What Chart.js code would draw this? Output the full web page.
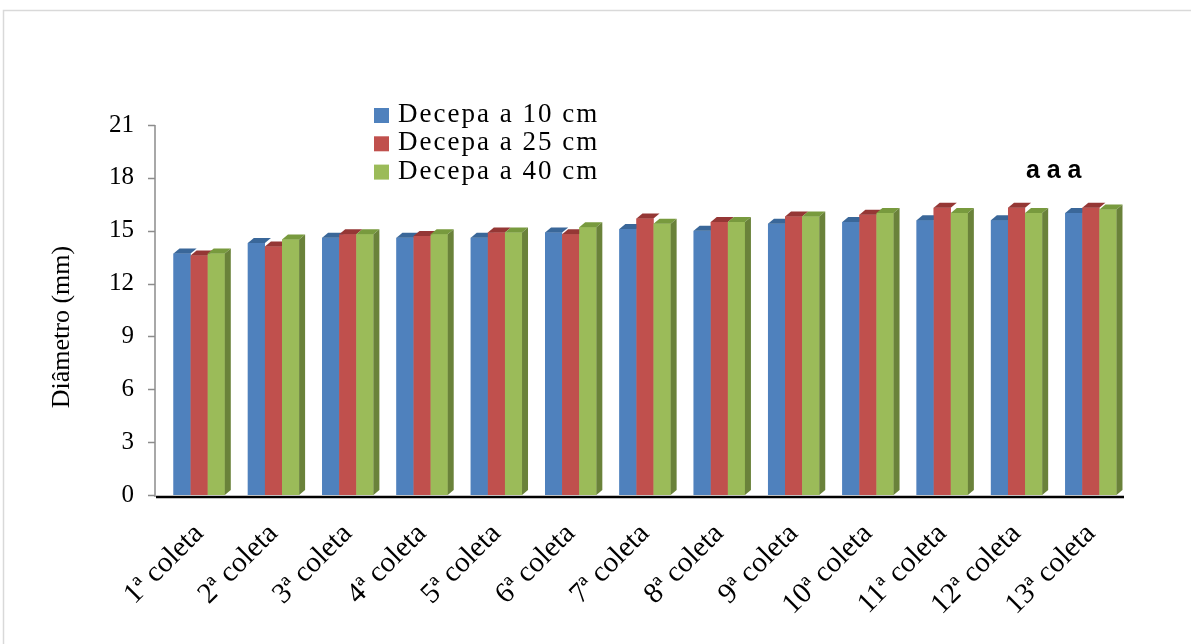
<!DOCTYPE html>
<html>
<head>
<meta charset="utf-8">
<script src="https://cdn.jsdelivr.net/npm/chart.js@4.4.1/dist/chart.umd.min.js"></script>
<style>
  html, body { margin: 0; padding: 0; background: #ffffff; }
  #wrap { width: 1191px; height: 644px; position: relative; }
</style>
</head>
<body>
<div id="wrap"><canvas id="chart" width="1191" height="644"></canvas></div>
<script>
// Stem diameter (mm) per sampling, for three cutting heights
const categories = ['1ª coleta', '2ª coleta', '3ª coleta', '4ª coleta', '5ª coleta', '6ª coleta', '7ª coleta',
                    '8ª coleta', '9ª coleta', '10ª coleta', '11ª coleta', '12ª coleta', '13ª coleta'];
const seriesNames = ['Decepa a 10 cm', 'Decepa a 25 cm', 'Decepa a 40 cm'];
const decepa10 = [13.7, 14.3, 14.6, 14.6, 14.6, 14.9, 15.1, 15.0, 15.4, 15.5, 15.6, 15.6, 16.0];
const decepa25 = [13.6, 14.1, 14.8, 14.7, 14.9, 14.8, 15.7, 15.5, 15.8, 15.9, 16.3, 16.3, 16.3];
const decepa40 = [13.7, 14.5, 14.8, 14.8, 14.9, 15.2, 15.4, 15.5, 15.8, 16.0, 16.0, 16.0, 16.2];
const yTicks = [0, 3, 6, 9, 12, 15, 18, 21];
const yTitle = 'Diâmetro (mm)';
const significance = 'a a a';

const frontColors = ['#4F81BD', '#C0504D', '#9BBB59'];
const topColors   = ['#3A6799', '#953735', '#789A3E'];
const sideColors  = ['#335A87', '#7F2E2C', '#6A823A'];
const DEPTH_X = 6, DEPTH_Y = 5;
const SERIF = "'Liberation Serif', 'Times New Roman', serif";

// Columns are redrawn series by series, each with a top face (and a side face on the
// last series) so that later columns hide the depth of the earlier ones
const bars3d = {
  id: 'bars3d',
  afterDatasetsDraw(chart) {
    const ctx = chart.ctx;
    const n = chart.data.datasets.length;
    for (let i = 0; i < n; i++) {
      const meta = chart.getDatasetMeta(i);
      meta.data.forEach(bar => {
        bar.draw(ctx, chart.chartArea);
        const { x, y, width, base } = bar.getProps(['x', 'y', 'width', 'base'], true);
        const l = x - width / 2, r = x + width / 2;
        ctx.save();
        ctx.fillStyle = topColors[i];
        ctx.beginPath();
        ctx.moveTo(l, y);
        ctx.lineTo(l + DEPTH_X, y - DEPTH_Y);
        ctx.lineTo(r + DEPTH_X, y - DEPTH_Y);
        ctx.lineTo(r, y);
        ctx.closePath();
        ctx.fill();
        if (i === n - 1) {
          ctx.fillStyle = sideColors[i];
          ctx.beginPath();
          ctx.moveTo(r, y);
          ctx.lineTo(r + DEPTH_X, y - DEPTH_Y);
          ctx.lineTo(r + DEPTH_X, base - DEPTH_Y);
          ctx.lineTo(r, base);
          ctx.closePath();
          ctx.fill();
        }
        ctx.restore();
      });
    }
  }
};

// Frame, axis lines, y title, legend and significance letters
const decorations = {
  id: 'decorations',
  beforeDraw(chart) {
    const ctx = chart.ctx;
    ctx.save();
    ctx.strokeStyle = '#D9D9D9';
    ctx.lineWidth = 1.5;
    ctx.strokeRect(3.5, 10.5, 1300, 700);
    ctx.restore();
  },
  afterDraw(chart) {
    const ctx = chart.ctx;
    const ca = chart.chartArea;
    const ys = chart.scales.y, xs = chart.scales.x;
    const axisX = ca.left - 7;
    ctx.save();
    // value axis with outward ticks
    ctx.strokeStyle = '#8C8C8C';
    ctx.lineWidth = 1.5;
    ctx.beginPath();
    ctx.moveTo(axisX, ys.getPixelForValue(21));
    ctx.lineTo(axisX, ca.bottom + 2);
    ys.ticks.forEach(t => {
      const py = Math.round(ys.getPixelForValue(t.value)) + 0.5;
      ctx.moveTo(axisX - 7, py);
      ctx.lineTo(axisX, py);
    });
    ctx.stroke();
    // category axis line
    ctx.strokeStyle = '#000000';
    ctx.lineWidth = 2.5;
    ctx.beginPath();
    ctx.moveTo(axisX + 1, ca.bottom + 2);
    ctx.lineTo(ca.right - 4, ca.bottom + 2);
    ctx.stroke();
    // y title
    ctx.fillStyle = '#000000';
    ctx.font = '26px ' + SERIF;
    ctx.textAlign = 'center';
    ctx.textBaseline = 'middle';
    ctx.translate(62, (ca.top + ca.bottom) / 2 + 17);
    ctx.rotate(-Math.PI / 2);
    ctx.fillText(yTitle, 0, 0);
    ctx.restore();

    // legend
    ctx.save();
    ctx.font = '27px ' + SERIF;
    ctx.textAlign = 'left';
    ctx.textBaseline = 'alphabetic';
    if ('letterSpacing' in ctx) ctx.letterSpacing = '2px';
    chart.data.datasets.forEach((ds, i) => {
      const rowY = 122 + i * 28.3;
      ctx.fillStyle = frontColors[i];
      ctx.fillRect(374, rowY - 14, 15, 15);
      ctx.fillStyle = '#000000';
      ctx.fillText(ds.label, 398, rowY);
    });
    ctx.restore();

    // significance letters
    ctx.save();
    ctx.font = 'bold 25px "Liberation Sans", Arial, sans-serif';
    ctx.fillStyle = '#000000';
    ctx.textAlign = 'center';
    ctx.textBaseline = 'alphabetic';
    const sx = (xs.getPixelForValue(11) + xs.getPixelForValue(12)) / 2;
    ctx.fillText(significance, sx, ys.getPixelForValue(18));
    ctx.restore();
  }
};

const values = [decepa10, decepa25, decepa40];
new Chart(document.getElementById('chart'), {
  type: 'bar',
  data: {
    labels: categories,
    datasets: seriesNames.map((name, i) => ({
      label: name,
      data: values[i],
      backgroundColor: frontColors[i],
      borderWidth: 0,
      categoryPercentage: 0.69,
      barPercentage: 1.0
    }))
  },
  options: {
    responsive: false,
    animation: false,
    devicePixelRatio: 1,
    layout: { padding: { top: 125, right: 63, left: 0, bottom: 0 } },
    plugins: { legend: { display: false }, tooltip: { enabled: false } },
    scales: {
      x: {
        grid: { display: false, drawTicks: false },
        border: { display: false },
        ticks: {
          autoSkip: false,
          maxRotation: 45,
          minRotation: 45,
          padding: 22,
          color: '#000000',
          font: { family: SERIF, size: 29 }
        },
        afterFit(scale) { scale.height = 149; }
      },
      y: {
        min: 0,
        max: 21,
        afterBuildTicks(scale) { scale.ticks = yTicks.map(v => ({ value: v })); },
        grid: { display: false, drawTicks: false },
        border: { display: false },
        ticks: {
          padding: 28,
          color: '#000000',
          font: { family: SERIF, size: 25 }
        },
        afterFit(scale) { scale.width = 162; }
      }
    }
  },
  plugins: [bars3d, decorations]
});
</script>
</body>
</html>
